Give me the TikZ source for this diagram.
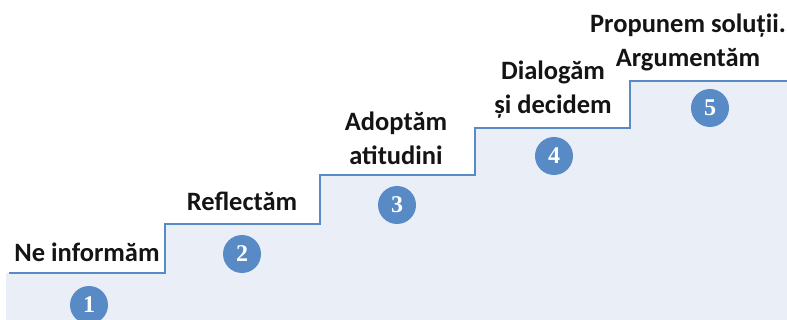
\documentclass[tikz,border=0pt]{standalone}
\usepackage{fontspec}
\setmainfont{Carlito}
\newfontfamily\digitfont{Liberation Serif}
\usepackage{tikz}
\usetikzlibrary{positioning}
\definecolor{stairblue}{RGB}{88,138,198}
\definecolor{stairfill}{RGB}{233,238,247}
\definecolor{labelgray}{RGB}{20,20,20}
\tikzstyle{stairline} = [line width=2.6pt, color=stairblue]
\tikzstyle{stepnum} = [circle, fill=stairblue, minimum size=38pt, inner sep=0pt, text=white, font=\digitfont\bfseries\fontsize{24}{24}\selectfont]
\tikzstyle{steplabel} = [anchor=base, align=center, inner sep=0pt, text=labelgray, font=\bfseries\fontsize{26.5}{34}\selectfont]

\begin{document}
\begin{tikzpicture}[x=1pt, y=-1pt]
\useasboundingbox (0,0) rectangle (787,320);
% Stair fill
\fill[stairfill] (6,320) -- (6,273) -- (165,273) -- (165,224) -- (320,224) -- (320,175)
  -- (475,175) -- (475,128) -- (630,128) -- (630,81) -- (787,81) -- (787,320) -- cycle;

% Stair outline
\draw[stairline] (9,273) -- (165,273) -- (165,224) -- (320,224) -- (320,175)
  -- (475,175) -- (475,128) -- (630,128) -- (630,81) -- (787,81);

% Numbers
\node[stepnum] (num1) at (89,305) {1};
\node[stepnum] (num2) at (242,254) {2};
\node[stepnum] (num3) at (397,205) {3};
\node[stepnum] (num4) at (554,156) {4};
\node[stepnum] (num5) at (710,108) {5};

% Labels above (base = last line)
\node[steplabel] (lab1) at (87,262) {Ne informăm};
\node[steplabel] (lab2) at (242,211) {Reflectăm};
\node[steplabel] (lab3) at (396,165) {Adoptăm\\atitudini};
\node[steplabel] (lab4) at (553,114) {Dialogăm\\și decidem};
\node[steplabel] (lab5) at (688,67) {Propunem soluții.\\Argumentăm};
\end{tikzpicture}
\end{document}
